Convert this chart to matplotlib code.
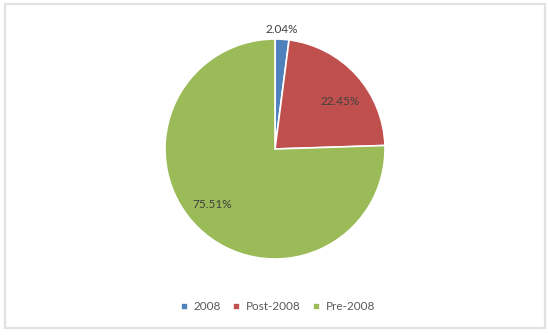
import matplotlib.pyplot as plt
from matplotlib.patches import FancyBboxPatch

# Data
labels = ['2008', 'Post-2008', 'Pre-2008']
shares = [2.04, 22.45, 75.51]
colors = ['#4F81BD', '#C0504D', '#9BBB59']

plt.rcParams['font.family'] = ['Lato', 'DejaVu Sans']

W, H = 548, 335
fig = plt.figure(figsize=(W / 100, H / 100), dpi=100)

# chart border
frame = FancyBboxPatch((5 / W, 7 / H), 540 / W, 324 / H,
                       boxstyle='square,pad=0', transform=fig.transFigure,
                       facecolor='none', edgecolor='#e2e2e2', linewidth=1.6,
                       zorder=-1)
fig.patches.append(frame)

cx, cy, r = 275, 149, 110
ax = fig.add_axes([(cx - r) / W, (H - cy - r) / H, 2 * r / W, 2 * r / H])
wedges, texts, autotexts = ax.pie(
    shares, colors=colors, startangle=90, counterclock=False,
    autopct='%.2f%%', pctdistance=0.76,
    wedgeprops=dict(edgecolor='white', linewidth=1.2),
    textprops=dict(color='#404040', fontsize=8.5))
ax.set_xlim(-1, 1)
ax.set_ylim(-1, 1)
ax.set_aspect('equal')

# Excel-like label placement
autotexts[0].set_position((0.06, 1.09))
autotexts[1].set_position((0.59, 0.43))
autotexts[2].set_position((-0.57, -0.50))

fig.legend(wedges, labels, loc='center', bbox_to_anchor=(278 / W, 1 - 307 / H),
           ncol=3, frameon=False, fontsize=8.5, handlelength=0.6, handleheight=0.6,
           handletextpad=0.5, columnspacing=1.0, labelcolor='#595959')

fig.savefig('out.png', dpi=100)
